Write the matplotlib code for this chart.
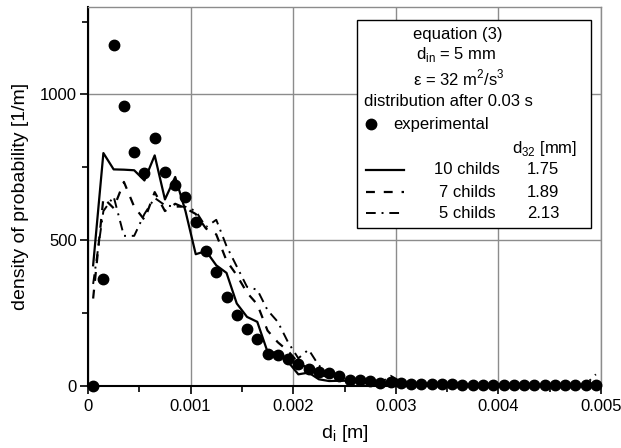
import numpy as np
import matplotlib
matplotlib.use('Agg')
import matplotlib.pyplot as plt
from matplotlib.patches import Rectangle
from matplotlib.lines import Line2D
from matplotlib.ticker import MultipleLocator, FixedFormatter, FixedLocator

plt.rcParams['font.family'] = ['Liberation Sans', 'DejaVu Sans']

# bin centres [m]
d_i = np.arange(50) * 0.0001 + 0.00005

experimental = [0, 367, 1168, 960, 801, 730, 849, 733, 689, 648,
                563, 463, 391, 304, 245, 196, 160, 111, 107, 94,
                76, 59, 48, 45, 34, 22, 20, 18, 12, 13,
                10, 8, 7, 7, 6, 6, 5, 5, 5, 4,
                4, 4, 3, 3, 3, 3, 2, 2, 2, 2]

childs_10 = [414, 799, 743, 742, 740, 705, 791, 640, 717, 600,
             452, 463, 414, 388, 283, 237, 220, 117, 114, 83,
             40, 46, 23, 17, 18, 18, 12, 10, 8, 7,
             6, 5, 5, 4, 4, 3, 3, 3, 3, 2,
             2, 2, 2, 2, 2, 2, 2, 2, 2, 3]

childs_7 = [300, 645, 610, 700, 615, 570, 665, 600, 625, 610,
            590, 540, 520, 430, 380, 320, 280, 190, 150, 120,
            80, 60, 40, 30, 25, 20, 15, 15, 12, 10,
            10, 8, 8, 7, 6, 6, 5, 5, 5, 4,
            4, 4, 3, 3, 3, 3, 3, 3, 3, 25]

childs_5 = [350, 600, 650, 515, 515, 590, 645, 620, 615, 615,
            600, 545, 570, 480, 410, 340, 330, 260, 220, 150,
            95, 125, 70, 45, 30, 20, 15, 12, 10, 35,
            15, 10, 8, 7, 6, 6, 5, 5, 5, 4,
            4, 4, 3, 3, 3, 3, 3, 3, 5, 40]

x_ticks = [0, 0.001, 0.002, 0.003, 0.004, 0.005]
x_ticklabels = ['0', '0.001', '0.002', '0.003', '0.004', '0.005']
y_ticks = [0, 500, 1000]

fig = plt.figure(figsize=(6.21, 4.48), dpi=100)
ax = fig.add_axes([88 / 621, 1 - 386 / 448, 513 / 621, (386 - 7) / 448])

grey = '#8c8c8c'
ax.set_xlim(0, 0.005)
ax.set_ylim(0, 1300)
ax.xaxis.set_major_locator(FixedLocator(x_ticks))
ax.xaxis.set_major_formatter(FixedFormatter(x_ticklabels))
ax.xaxis.set_minor_locator(MultipleLocator(0.0005))
ax.yaxis.set_major_locator(FixedLocator(y_ticks))
ax.yaxis.set_minor_locator(MultipleLocator(250))
ax.grid(True, which='major', color=grey, lw=1.0)
ax.set_axisbelow(True)

for s in ['top', 'right']:
    ax.spines[s].set_color(grey)
    ax.spines[s].set_linewidth(1.0)
for s in ['left', 'bottom']:
    ax.spines[s].set_linewidth(1.5)

ax.tick_params(which='major', direction='out', length=6, width=1.2, labelsize=12)
ax.tick_params(which='minor', direction='out', length=4, width=1.2)
ax.tick_params(axis='y', which='major', pad=2)
ax.tick_params(top=False, right=False, which='both')

ax.plot(d_i, childs_10, color='black', lw=1.6, ls='-', clip_on=False, zorder=3)
ax.plot(d_i, childs_7, color='black', lw=1.6, ls=(0, (4, 4)), clip_on=False, zorder=3)
ax.plot(d_i, childs_5, color='black', lw=1.4, ls=(0, (5, 3, 1, 3)), clip_on=False, zorder=3)
ax.plot(d_i, experimental, 'o', color='black', ms=7.5, clip_on=False, zorder=4)

ax.set_xlabel('d$_\\mathregular{i}$ [m]', fontsize=14, labelpad=6)
ax.set_ylabel('density of probability [1/m]', fontsize=14, labelpad=8)

# legend box drawn by hand
fig.patches.append(Rectangle((357 / 621, 1 - 228 / 448), 234 / 621, 208 / 448,
                             transform=fig.transFigure, facecolor='white',
                             edgecolor='black', lw=1.0, zorder=5))
fs = 12
fig.text(458 / 621, 1 - 34 / 448, 'equation (3)', ha='center', va='center', fontsize=fs, zorder=6)
fig.text(456 / 621, 1 - 55 / 448, 'd$_\\mathregular{in}$ = 5 mm', ha='center', va='center', fontsize=fs, zorder=6)
fig.text(459 / 621, 1 - 78 / 448, '\u03b5 = 32 m$^\\mathregular{2}$/s$^\\mathregular{3}$', ha='center', va='center', fontsize=fs, zorder=6)
fig.text(448 / 621, 1 - 101 / 448, 'distribution after 0.03 s', ha='center', va='center', fontsize=fs, zorder=6)
fig.lines.append(Line2D([371 / 621], [1 - 124 / 448], marker='o', color='black', ms=7.5,
                        transform=fig.transFigure, zorder=6))
fig.text(393 / 621, 1 - 124 / 448, 'experimental', ha='left', va='center', fontsize=fs, zorder=6)
fig.text(512 / 621, 1 - 149 / 448, 'd$_\\mathregular{32}$ [mm]', ha='left', va='center', fontsize=fs, zorder=6)

rows = [('10 childs', '1.75', '-', 1.6, 170),
        ('7 childs', '1.89', (0, (4, 4)), 1.6, 192),
        ('5 childs', '2.13', (0, (5, 3, 1, 3)), 1.4, 213)]
for label, d32, style, lw, yp in rows:
    yf = 1 - yp / 448
    fig.lines.append(Line2D([366 / 621, 404 / 621], [yf, yf], color='black', ls=style, lw=lw,
                            transform=fig.transFigure, zorder=6))
    fig.text(467 / 621, yf, label, ha='center', va='center', fontsize=fs, zorder=6)
    fig.text(543 / 621, yf, d32, ha='center', va='center', fontsize=fs, zorder=6)

fig.savefig('out.png', dpi=100)
